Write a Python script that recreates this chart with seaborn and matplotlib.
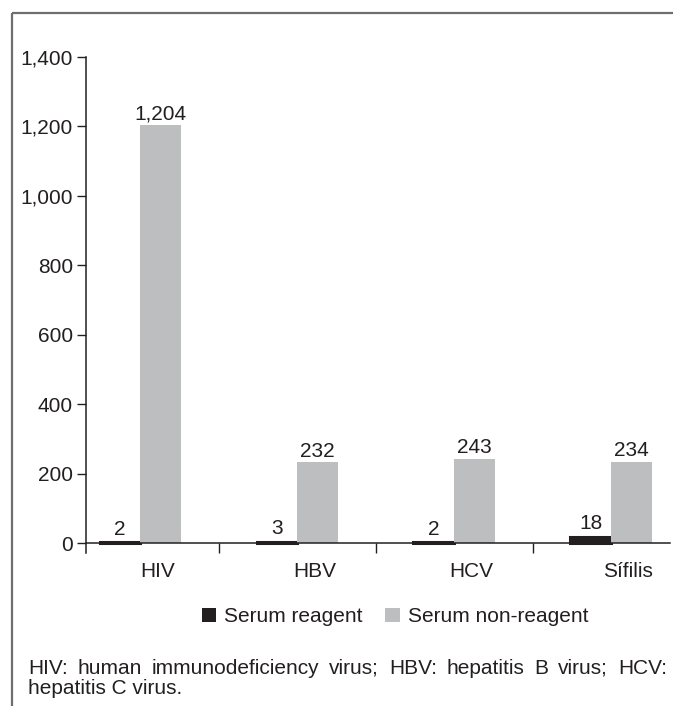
import matplotlib
matplotlib.use("Agg")
import matplotlib.pyplot as plt
import seaborn as sns
import pandas as pd
from matplotlib.lines import Line2D
from matplotlib.patches import Patch
from matplotlib.transforms import ScaledTranslation
from matplotlib.ticker import FuncFormatter, FixedLocator

# ---------------- data ----------------
categories = ["HIV", "HBV", "HCV", "Sífilis"]
series_names = ["Serum reagent", "Serum non-reagent"]
reagent = [2, 3, 2, 18]
non_reagent = [1204, 232, 243, 234]
y_ticks = [0, 200, 400, 600, 800, 1000, 1200, 1400]
footnote_line1 = "HIV: human immunodeficiency virus; HBV: hepatitis B virus; HCV:"
footnote_line2 = "hepatitis C virus."

colors = ["#231f20", "#bcbec0"]
text_color = "#231f20"
border_color = "#6d6e71"

sns.set_theme(style="white")
plt.rcParams['font.family'] = ['Liberation Sans', 'DejaVu Sans']
plt.rcParams['text.color'] = text_color
FS = 15

df = pd.DataFrame({
    "category": categories * 2,
    "series": [series_names[0]] * len(categories) + [series_names[1]] * len(categories),
    "value": reagent + non_reagent,
})

W, H = 673, 706
fig = plt.figure(figsize=(W / 100, H / 100), dpi=100)
fig.patch.set_facecolor("white")

ax_left, ax_right = 86, 670
ax_top, ax_bottom = 57, 553
ax = fig.add_axes([ax_left / W, (H - ax_bottom) / H, (ax_right - ax_left) / W, (ax_bottom - ax_top) / H])

sns.barplot(data=df, x="category", y="value", hue="series", hue_order=series_names,
            order=categories, palette=colors, width=0.52, gap=0, saturation=1,
            linewidth=0, edgecolor="none", legend=False, ax=ax)

# dark bars drawn with a thin outline of their own colour (as in the original)
for p in ax.containers[0]:
    p.set_edgecolor(colors[0])
    p.set_linewidth(2.2)
    p.set_joinstyle("miter")

for cont, vals, pad in zip(ax.containers, [reagent, non_reagent], [2.5, 1]):
    ax.bar_label(cont, labels=[f"{v:,}" for v in vals], padding=pad, fontsize=FS, color=text_color)

ax.set_ylim(-28.8, 1400)
ax.set_xlim(-0.347, 3.376)
ax.set_xlabel("")
ax.set_ylabel("")

# spines
for s in ["top", "right"]:
    ax.spines[s].set_visible(False)
ax.spines["bottom"].set_position(("data", 0))
for s in ["left", "bottom"]:
    ax.spines[s].set_color(text_color)
    ax.spines[s].set_linewidth(1.1)
    ax.spines[s].set_zorder(5)

ax.set_yticks(y_ticks)
ax.yaxis.set_major_formatter(FuncFormatter(lambda v, p: f"{int(v):,}"))
ax.tick_params(axis="y", direction="out", length=6.5, width=1, color=text_color,
               labelsize=FS, labelcolor=text_color, pad=3, left=True)

ax.set_xticks(range(len(categories)))
ax.set_xticklabels(categories)
ax.tick_params(axis="x", which="major", length=0, pad=14, labelsize=FS, labelcolor=text_color, bottom=True)
ax.xaxis.set_minor_locator(FixedLocator([0.5, 1.5, 2.5]))
ax.tick_params(axis="x", which="minor", direction="out", length=7.2, width=1, color=text_color, bottom=True)
off = ScaledTranslation(0.17, 0, fig.dpi_scale_trans)
for lab in ax.get_xticklabels():
    lab.set_transform(lab.get_transform() + off)

ax.grid(False)
ax.set_facecolor("white")

# legend
handles = [Patch(facecolor=c, edgecolor="none") for c in colors]
fig.legend(handles, series_names, loc="center", bbox_to_anchor=(395 / W, 1 - 617 / H),
           ncol=2, frameon=False, fontsize=FS, handlelength=0.68, handleheight=0.68,
           handletextpad=0.4, columnspacing=1.1, borderaxespad=0, borderpad=0)

# footnote (justified first line)
fig.canvas.draw()
renderer = fig.canvas.get_renderer()
words = footnote_line1.split(" ")
x0, x1 = 28, 667
y1 = 1 - 668 / H
y2 = 1 - 689 / H
tmp = [fig.text(0, 0, w, fontsize=FS) for w in words]
widths = [t.get_window_extent(renderer).width for t in tmp]
for t in tmp:
    t.remove()
gap = (x1 - x0 - sum(widths)) / (len(words) - 1)
x = x0
for w, wd in zip(words, widths):
    fig.text(x / W, y1, w, fontsize=FS, va="center", ha="left", color=text_color)
    x += wd + gap
fig.text(x0 / W, y2, footnote_line2, fontsize=FS, va="center", ha="left", color=text_color)

# frame lines
fig.add_artist(Line2D([12 / W, 1], [1 - 13 / H, 1 - 13 / H], transform=fig.transFigure,
                      color=border_color, lw=1.6, solid_capstyle="butt"))
fig.add_artist(Line2D([12 / W, 12 / W], [1 - 13 / H, 0], transform=fig.transFigure,
                      color=border_color, lw=1.6, solid_capstyle="butt"))

fig.savefig("out.png", dpi=100, facecolor="white")
